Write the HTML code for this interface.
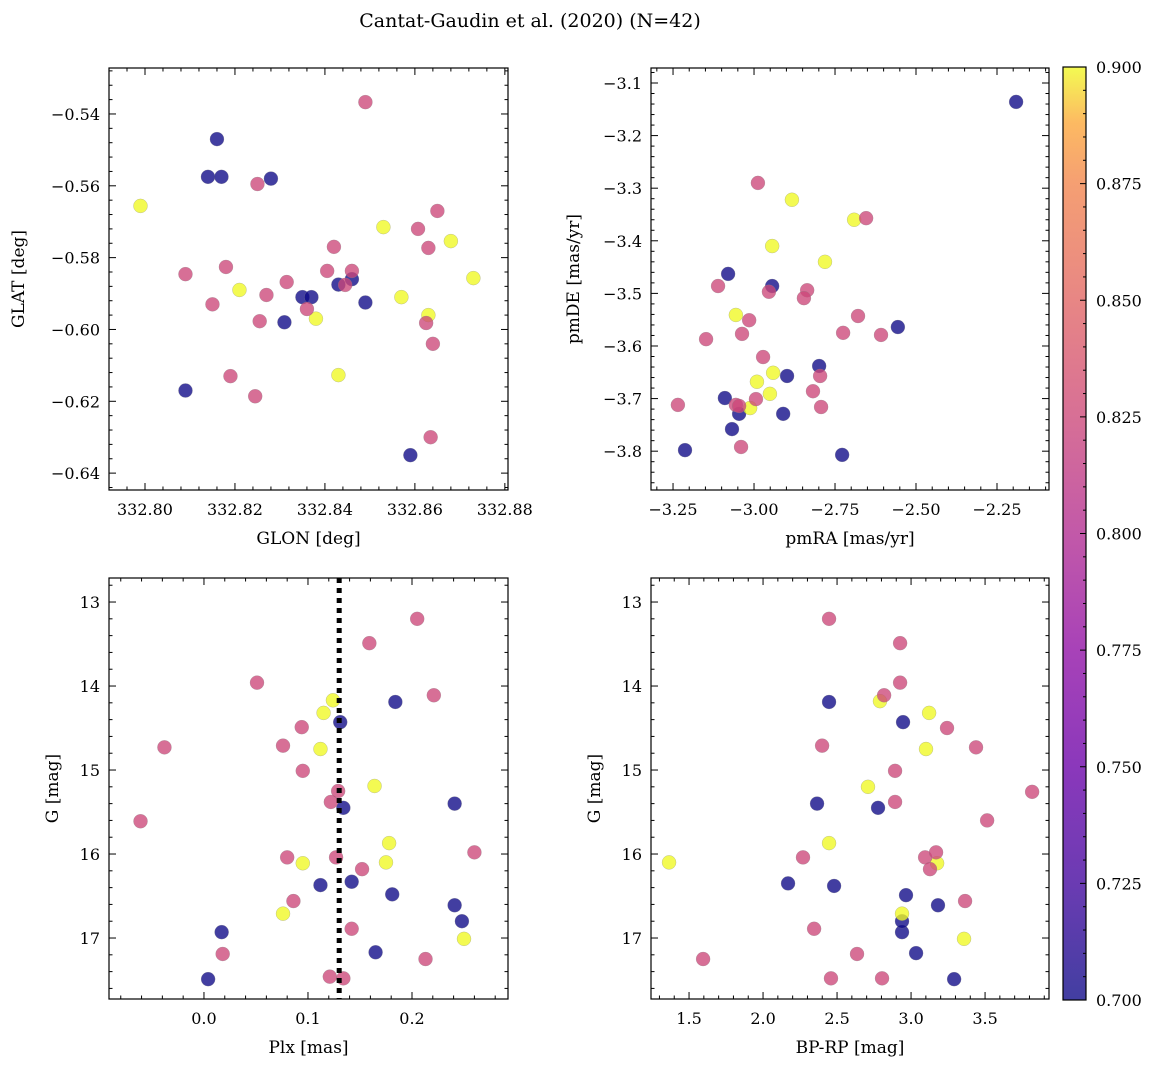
<!DOCTYPE html>
<html><head><meta charset="utf-8">
<style>
body{margin:0;background:#fff;}
svg{display:block;font-family:"DejaVu Serif","Liberation Serif",serif;}
</style></head>
<body>
<svg id="chart" width="1161" height="1067" viewBox="0 0 1161 1067" xmlns="http://www.w3.org/2000/svg">
<defs>
<linearGradient id="plasma" x1="0" y1="1" x2="0" y2="0">
<stop offset="0" stop-color="#0d0887"/><stop offset="0.125" stop-color="#41049d"/><stop offset="0.25" stop-color="#6a00a8"/><stop offset="0.375" stop-color="#8f0da4"/><stop offset="0.5" stop-color="#b12a90"/><stop offset="0.625" stop-color="#cc4778"/><stop offset="0.75" stop-color="#e16462"/><stop offset="0.875" stop-color="#f2844b"/><stop offset="0.94" stop-color="#fca636"/><stop offset="1" stop-color="#f0f921"/>
</linearGradient>
</defs>
<text x="530" y="27" font-size="19" text-anchor="middle">Cantat-Gaudin et al. (2020) (N=42)</text>
</svg>
<script>
// ===== Data =====
const groups = ["blue","yellow","pink"];
const groupValues = [0.7, 0.9, 0.8];
const groupCounts = [12, 9, 21];
const glon = [332.816,332.814,332.817,332.828,332.809,332.831,332.835,332.837,332.843,332.846,332.849,332.859,
 332.799,332.821,332.838,332.843,332.853,332.857,332.863,332.868,332.873,
 332.849,332.825,332.809,332.815,332.818,332.827,332.8255,332.8315,332.819,332.8245,332.836,332.8405,332.842,332.8445,332.846,332.8607,332.865,332.863,332.8625,332.864,332.8635];
const glat = [-0.547,-0.5575,-0.5575,-0.558,-0.617,-0.598,-0.591,-0.591,-0.5875,-0.586,-0.5925,-0.635,
 -0.5656,-0.589,-0.597,-0.6127,-0.5715,-0.591,-0.596,-0.5754,-0.5857,
 -0.5367,-0.5595,-0.5846,-0.593,-0.5826,-0.5904,-0.5977,-0.5868,-0.613,-0.6186,-0.5943,-0.5837,-0.577,-0.5876,-0.5837,-0.572,-0.567,-0.5773,-0.5982,-0.604,-0.63];
const pmra = [-2.191,-3.080,-2.944,-3.213,-3.090,-3.046,-3.068,-2.898,-2.910,-2.799,-2.728,-2.556,
 -2.883,-2.691,-2.944,-2.781,-3.056,-2.991,-2.941,-2.951,-3.012,
 -2.988,-2.654,-3.111,-2.954,-2.836,-2.846,-3.015,-3.037,-3.235,-3.148,-2.972,-2.679,-2.725,-2.608,-2.796,-2.818,-2.994,-2.793,-3.056,-3.040,-3.046];
const pmde = [-3.136,-3.463,-3.486,-3.798,-3.699,-3.729,-3.758,-3.657,-3.729,-3.638,-3.807,-3.564,
 -3.322,-3.36,-3.41,-3.44,-3.541,-3.668,-3.651,-3.691,-3.718,
 -3.29,-3.357,-3.486,-3.497,-3.494,-3.509,-3.551,-3.577,-3.712,-3.587,-3.621,-3.543,-3.575,-3.579,-3.657,-3.686,-3.701,-3.716,-3.712,-3.792,-3.714];
const plx = [0.131,0.184,0.134,0.241,0.112,0.142,0.181,0.017,0.165,0.241,0.248,0.004,
 0.124,0.115,0.112,0.164,0.178,0.095,0.175,0.076,0.25,
 0.205,0.159,0.051,0.221,0.094,0.076,-0.038,0.095,0.122,0.129,-0.061,0.26,0.08,0.127,0.152,0.086,0.142,0.018,0.121,0.134,0.213];
const gmag3 = [14.43,14.19,15.45,15.40,16.37,16.33,16.48,16.93,17.17,16.61,16.80,17.49,
 14.17,14.32,14.75,15.19,15.87,16.11,16.10,16.71,17.01,
 13.20,13.49,13.96,14.11,14.49,14.71,14.73,15.01,15.38,15.25,15.61,15.98,16.04,16.04,16.18,16.56,16.89,17.19,17.46,17.48,17.25];
const bprp = [2.446,2.946,2.365,2.777,2.169,2.48,2.966,3.182,2.939,2.939,3.034,3.291,
 2.79,3.122,3.101,2.709,2.446,1.365,3.176,2.939,3.358,
 2.446,2.926,2.926,2.818,3.243,2.399,3.439,2.892,2.892,3.818,3.514,2.27,3.095,3.169,3.128,3.365,2.345,2.635,1.595,2.459,2.804];
const gmag4 = [14.19,14.43,15.40,15.45,16.35,16.38,16.49,16.61,16.93,16.80,17.18,17.49,
 14.18,14.32,14.75,15.20,15.87,16.10,16.11,16.71,17.01,
 13.20,13.49,13.96,14.11,14.50,14.71,14.73,15.01,15.38,15.26,15.60,16.04,16.04,15.98,16.18,16.56,16.89,17.19,17.25,17.48,17.48];
const plxLine = 0.13;
const cbarTicks = [0.700,0.725,0.750,0.775,0.800,0.825,0.850,0.875,0.900];

// ===== Helpers =====
const svg = document.getElementById('chart');
const NS = 'http://www.w3.org/2000/svg';
function mk(tag, attrs){const e=document.createElementNS(NS,tag);for(const k in attrs)e.setAttribute(k,attrs[k]);svg.appendChild(e);return e;}
function colorFor(v){ if(v>=0.85) return '#f0f921'; if(v>=0.75) return '#cc4778'; return '#0d0887'; }
const valueOf = [];
groupCounts.forEach((c,gi)=>{for(let i=0;i<c;i++) valueOf.push(groupValues[gi]);});

function panel(cfg){
  const {x0,x1,y0,y1,xmin,xmax,ymin,ymax,invY,xs,ys,xMajor,xMinor,yMajor,yMinor,xFmt,yFmt,xlabel,ylabel,ylabX,name} = cfg;
  const sx = v => x0 + (v-xmin)/(xmax-xmin)*(x1-x0);
  const sy = invY ? (v => y0 + (v-ymin)/(ymax-ymin)*(y1-y0)) : (v => y1 - (v-ymin)/(ymax-ymin)*(y1-y0));
  for(let i=0;i<xs.length;i++){
    const c = mk('circle',{cx:sx(xs[i]),cy:sy(ys[i]),r:7,fill:colorFor(valueOf[i]),'fill-opacity':0.78,stroke:'#888','stroke-opacity':0.5,'stroke-width':0.5});
    
    
  }
  if(cfg.extra) cfg.extra(sx,sy);
  const fr = mk('rect',{x:x0,y:y0,width:x1-x0,height:y1-y0,fill:'none',stroke:'#000','stroke-width':1.2});
  
  
  const eps=1e-9;
  const xs0=Math.ceil(xmin/xMinor-eps);
  for(let k=xs0;k*xMinor<=xmax+eps;k++){
    const v=k*xMinor, px=sx(v);
    const major = Math.abs(v/xMajor-Math.round(v/xMajor))<1e-6;
    const L = major?7:3.5;
    mk('line',{x1:px,x2:px,y1:y1,y2:y1-L,stroke:'#000','stroke-width':1});
    mk('line',{x1:px,x2:px,y1:y0,y2:y0+L,stroke:'#000','stroke-width':1});
    if(major){
      const t=mk('text',{x:px,y:y1+25,'font-size':16,'text-anchor':'middle'});
      t.textContent = xFmt(v);
      
      
    }
  }
  const ys0=Math.ceil(Math.min(ymin,ymax)/yMinor-eps);
  const yHi=Math.max(ymin,ymax);
  for(let k=ys0;k*yMinor<=yHi+eps;k++){
    const v=k*yMinor, py=sy(v);
    const major = Math.abs(v/yMajor-Math.round(v/yMajor))<1e-6;
    const L = major?7:3.5;
    mk('line',{x1:x0,x2:x0+L,y1:py,y2:py,stroke:'#000','stroke-width':1});
    mk('line',{x1:x1,x2:x1-L,y1:py,y2:py,stroke:'#000','stroke-width':1});
    if(major){
      const t=mk('text',{x:x0-9,y:py+6,'font-size':16,'text-anchor':'end'});
      t.textContent = yFmt(v);
      
      
    }
  }
  const xl=mk('text',{x:(x0+x1)/2,y:y1+54,'font-size':17,'text-anchor':'middle'});
  xl.textContent=xlabel;
  
  
  const yl=mk('text',{x:ylabX,y:(y0+y1)/2,'font-size':17,'text-anchor':'middle',transform:`rotate(-90 ${ylabX} ${(y0+y1)/2})`});
  yl.textContent=ylabel;
  
  
}
const neg = s => s.replace('-','\u2212');

panel({name:'glon-glat',x0:109,x1:508,y0:68,y1:490,xmin:332.792,xmax:332.8807,ymin:-0.6447,ymax:-0.5272,
  xs:glon,ys:glat,xMajor:0.02,xMinor:0.004,yMajor:0.02,yMinor:0.004,
  xFmt:v=>v.toFixed(2),yFmt:v=>neg(v.toFixed(2)),xlabel:'GLON [deg]',ylabel:'GLAT [deg]',ylabX:24});
panel({name:'pm',x0:651,x1:1049,y0:68,y1:490,xmin:-3.318,xmax:-2.0895,ymin:-3.8738,ymax:-3.0715,
  xs:pmra,ys:pmde,xMajor:0.25,xMinor:0.05,yMajor:0.1,yMinor:0.02,
  xFmt:v=>neg(v.toFixed(2)),yFmt:v=>neg(v.toFixed(1)),xlabel:'pmRA [mas/yr]',ylabel:'pmDE [mas/yr]',ylabX:579});
panel({name:'plx-g',x0:109,x1:508,y0:578,y1:999,xmin:-0.0913,xmax:0.2923,ymin:12.714,ymax:17.726,invY:true,
  xs:plx,ys:gmag3,xMajor:0.1,xMinor:0.02,yMajor:1,yMinor:0.2,
  xFmt:v=>(Math.abs(v)<1e-9?0:v).toFixed(1),yFmt:v=>v.toFixed(0),xlabel:'Plx [mas]',ylabel:'G [mag]',ylabX:58,
  extra:(sx,sy)=>{const l=mk('line',{x1:sx(plxLine),x2:sx(plxLine),y1:578,y2:999,stroke:'#000','stroke-width':5,'stroke-dasharray':'5,5'});
    
    }});
panel({name:'cmd',x0:651,x1:1049,y0:578,y1:999,xmin:1.243,xmax:3.932,ymin:12.714,ymax:17.726,invY:true,
  xs:bprp,ys:gmag4,xMajor:0.5,xMinor:0.1,yMajor:1,yMinor:0.2,
  xFmt:v=>v.toFixed(1),yFmt:v=>v.toFixed(0),xlabel:'BP-RP [mag]',ylabel:'G [mag]',ylabX:600});

// colorbar
const cb = mk('rect',{x:1063,y:67,width:23,height:933,fill:'url(#plasma)','fill-opacity':0.78,stroke:'#000','stroke-width':1.2});


const cy = v => 1000 - (v-0.7)/0.2*933;
for(let k=0;k<=40;k++){
  const v=0.7+k*0.005, py=cy(v);
  const major = k%5===0;
  mk('line',{x1:1086,x2:1086-(major?6:3),y1:py,y2:py,stroke:'#000','stroke-width':1});
}
cbarTicks.forEach(v=>{
  const t=mk('text',{x:1096,y:cy(v)+6,'font-size':16});
  t.textContent=v.toFixed(3);
  
  
});
</script>
</body></html>
